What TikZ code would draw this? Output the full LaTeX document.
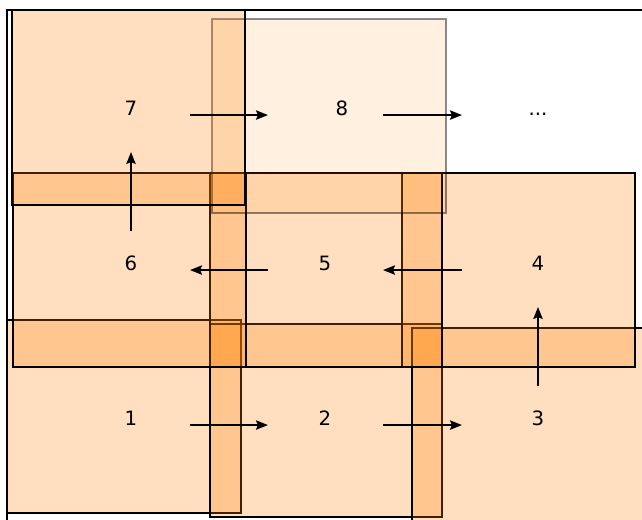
\documentclass[tikz,border=0pt]{standalone}
\usepackage{fontspec}
\setmainfont{DejaVu Sans}
\usetikzlibrary{arrows.meta}

\tikzset{
  cell/.style={fill=orange, fill opacity=0.25, draw=black, line width=1.4pt},
  ghost/.style={fill=orange, fill opacity=0.12, draw=black, draw opacity=0.45, line width=1.4pt},
  num/.style={inner sep=0pt, text height=10.6pt, text depth=0pt, font=\fontsize{14.8pt}{17pt}\selectfont},
  flow/.style 2 args={-{Stealth[length=9pt,width=7pt,inset=1.5pt]}, line width=1.5pt,
    shorten <=#1, shorten >=#2},
}

\begin{document}
\begin{tikzpicture}[x=0.75pt,y=-0.75pt]
  % bounding box
  \useasboundingbox (0,0) rectangle (642,520);
  \clip (0,0) rectangle (642,520);
  \draw[line width=1pt] (7,10) rectangle (680,560);
  % Boxes
  \path[cell] (7,320) rectangle (241,513);
  \path[cell] (210,324) rectangle (442,517);
  \path[cell] (412,328) rectangle (680,560);
  \path[cell] (402,173) rectangle (635,367);
  \path[cell] (210,173) rectangle (442,367);
  \path[cell] (13,173) rectangle (246,367);
  \path[ghost] (212,19) rectangle (446,213);
  \path[cell] (12,10) rectangle (245,205);
  % Labels
  \node[num] (n7) at (131,108) {7};
  \node[num] (n8) at (342,108) {8};
  \node[num] (nd) at (538,108) {...};
  \node[num] (n6) at (131,263) {6};
  \node[num] (n5) at (325,263) {5};
  \node[num] (n4) at (538,263) {4};
  \node[num] (n1) at (131,418) {1};
  \node[num] (n2) at (325,418) {2};
  \node[num] (n3) at (538,418) {3};
  % Arrows
  \draw[flow={44.25pt}{42.75pt}] (n1.base) -- (n2.base);
  \draw[flow={43.5pt}{57pt}] (n2.base) -- (n3.base);
  \draw[flow={24pt}{33pt}] (n3.center) -- (n4.center);
  \draw[flow={57pt}{43.5pt}] (n4.base) -- (n5.base);
  \draw[flow={42.75pt}{44.25pt}] (n5.base) -- (n6.base);
  \draw[flow={24pt}{33pt}] (n6.center) -- (n7.center);
  \draw[flow={44.25pt}{55.5pt}] (n7.base) -- (n8.base);
  \draw[flow={30.75pt}{57pt}] (n8.base) -- (nd.base);
\end{tikzpicture}
\end{document}
